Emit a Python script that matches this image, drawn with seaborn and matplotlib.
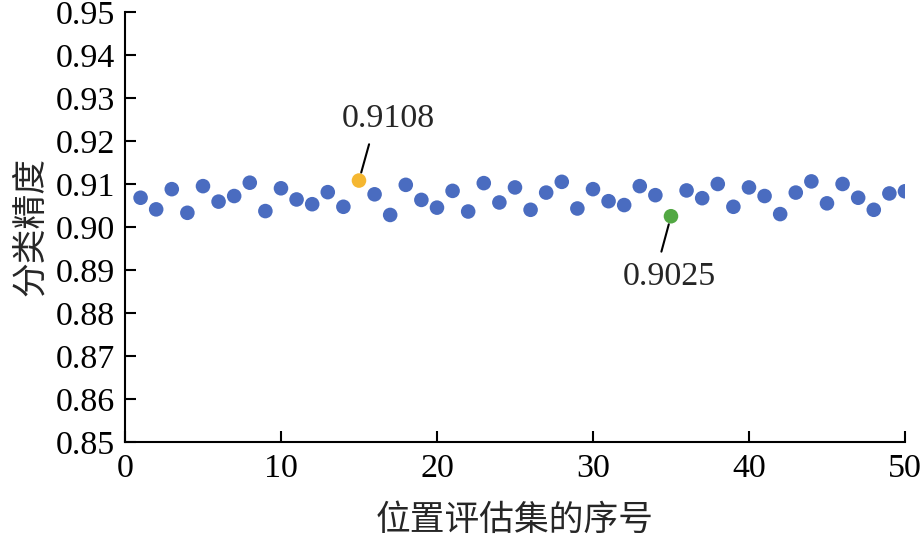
import pandas as pd
import matplotlib
matplotlib.use('Agg')
import matplotlib.pyplot as plt
import seaborn as sns
from matplotlib.ticker import FormatStrFormatter, MultipleLocator

# Data
SET_INDEX = list(range(1, 51))
ACCURACY = [
    0.9068, 0.9041, 0.9088, 0.9033, 0.9095, 0.9059, 0.9072, 0.9103, 0.9037, 0.9090,
    0.9064, 0.9053, 0.9081, 0.9047, 0.9108, 0.9076, 0.9028, 0.9098, 0.9063, 0.9045,
    0.9084, 0.9036, 0.9102, 0.9057, 0.9092, 0.9040, 0.9080, 0.9105, 0.9043, 0.9088,
    0.9060, 0.9051, 0.9095, 0.9074, 0.9025, 0.9085, 0.9067, 0.9100, 0.9047, 0.9092,
    0.9072, 0.9030, 0.9080, 0.9106, 0.9055, 0.9100, 0.9068, 0.9040, 0.9078, 0.9083,
]
X_LABEL = '位置评估集的序号'
Y_LABEL = '分类精度'

# Style
BLUE = '#4A6CC0'
ORANGE = '#F5B731'
GREEN = '#52A843'
NUM_FONT = 'Liberation Serif'
CJK_FONT = ['Noto Sans CJK SC', 'DejaVu Sans']
NUM_SIZE = 24.5

sns.set_theme(style='ticks')
plt.rcParams['font.family'] = [NUM_FONT, 'DejaVu Serif']
plt.rcParams['axes.linewidth'] = 1.5

df = pd.DataFrame({'idx': SET_INDEX, 'acc': ACCURACY})
df['kind'] = 'normal'
i_max = df['acc'].idxmax()
i_min = df['acc'].idxmin()
df.loc[i_max, 'kind'] = 'max'
df.loc[i_min, 'kind'] = 'min'

fig = plt.figure(figsize=(9.21, 5.4), dpi=100)
ax = fig.add_axes([0.1357, 0.1815, 0.8469, 0.7963])

sns.scatterplot(
    data=df, x='idx', y='acc', hue='kind',
    palette={'normal': BLUE, 'max': ORANGE, 'min': GREEN},
    s=110, edgecolor='none', legend=False, ax=ax, zorder=3
)

ax.set_xlim(0, 50)
ax.set_ylim(0.85, 0.95)
ax.xaxis.set_major_locator(MultipleLocator(10))
ax.yaxis.set_major_locator(MultipleLocator(0.01))
ax.yaxis.set_major_formatter(FormatStrFormatter('%.2f'))
ax.tick_params(direction='in', length=8, width=1.5, labelsize=NUM_SIZE, colors='black')
ax.tick_params(axis='y', pad=7)
ax.tick_params(axis='x', pad=8)
for side in ['top', 'right']:
    ax.spines[side].set_visible(False)
for side in ['left', 'bottom']:
    ax.spines[side].set_color('black')

ax.set_xlabel(X_LABEL, fontsize=25, family=CJK_FONT, labelpad=14)
ax.set_ylabel(Y_LABEL, fontsize=25, family=CJK_FONT, labelpad=6)

# Annotate max and min
hi = df.loc[i_max]
lo = df.loc[i_min]
ax.annotate(
    f"{hi['acc']:.4f}", xy=(hi['idx'], hi['acc']), xytext=(16.9, 0.9251),
    ha='center', va='center', fontsize=NUM_SIZE,
    arrowprops=dict(arrowstyle='-', color='black', lw=1.5,
                    relpos=(0.32, 0.0), shrinkA=5, shrinkB=6)
)
ax.annotate(
    f"{lo['acc']:.4f}", xy=(lo['idx'], lo['acc']), xytext=(34.87, 0.8884),
    ha='center', va='center', fontsize=NUM_SIZE,
    arrowprops=dict(arrowstyle='-', color='black', lw=1.5,
                    relpos=(0.39, 1.0), shrinkA=5, shrinkB=6)
)

fig.savefig('out.png', dpi=100)
plt.close(fig)
